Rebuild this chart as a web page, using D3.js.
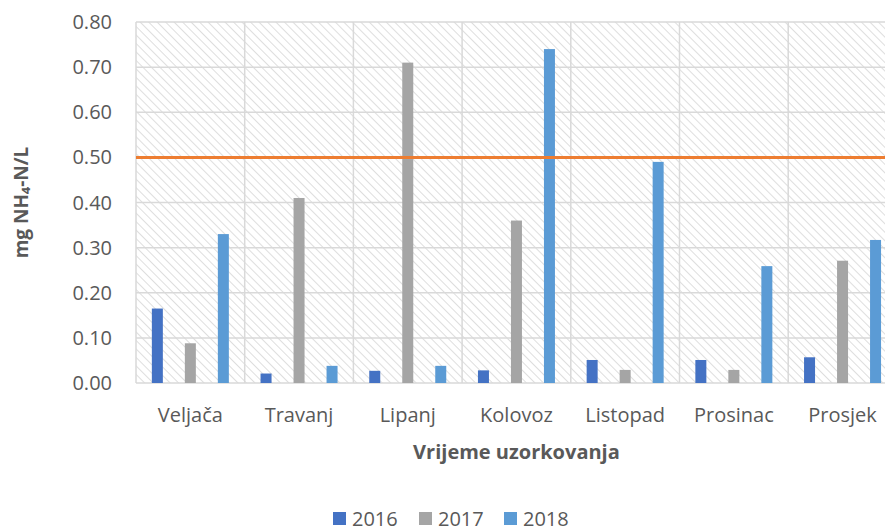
<!DOCTYPE html>
<html>
<head>
<meta charset="utf-8">
<script src="https://cdn.jsdelivr.net/npm/d3@7"></script>
<style>
  body { margin: 0; background: #fff; }
  text { font-family: "Open Sans", "Liberation Sans", sans-serif; fill: #595959; }
</style>
</head>
<body>
<div id="chart"></div>
<script>
//////////////////////////// data /////////////////////////////////////////

const months = ["Veljača", "Travanj", "Lipanj", "Kolovoz", "Listopad", "Prosinac", "Prosjek"];
const years = ["2016", "2017", "2018"];
const vals2016 = [0.165, 0.021, 0.027, 0.028, 0.051, 0.051, 0.057];
const vals2017 = [0.088, 0.41, 0.71, 0.36, 0.029, 0.029, 0.271];
const vals2018 = [0.33, 0.038, 0.038, 0.74, 0.49, 0.259, 0.317];
const yTicks = [0, 0.1, 0.2, 0.3, 0.4, 0.5, 0.6, 0.7, 0.8];
const limit = 0.5;

const series = [vals2016, vals2017, vals2018];
const data = months.map((m, i) => ({
	month: m,
	values: years.map((y, j) => ({ year: y, val: series[j][i] }))
}));

//////////////////////////// sizes ////////////////////////////////////////

const width = 885;
const height = 531;
const margin = { top: 22, left: 136, bottom: 148 };
const catStep = 108.7;

const colors = d3.scaleOrdinal().domain(years).range(["#4472C4", "#A5A5A5", "#5B9BD5"]);

//////////////////////////// svg //////////////////////////////////////////

const svg = d3.select("#chart").append("svg")
	.attr("width", width)
	.attr("height", height);

// hatched background (lines falling left to right)
const defs = svg.append("defs");
const pat = defs.append("pattern")
	.attr("id", "hatch")
	.attr("patternUnits", "userSpaceOnUse")
	.attr("width", 6)
	.attr("height", 6)
	.attr("patternTransform", "rotate(45)");
pat.append("line")
	.attr("x1", 0).attr("y1", 0).attr("x2", 6).attr("y2", 0)
	.attr("stroke", "#dedede")
	.attr("stroke-width", 2);

//////////////////////////// scales ///////////////////////////////////////

const xScale = d3.scaleBand()
	.domain(months)
	.range([margin.left, margin.left + catStep * months.length]);

const x1 = d3.scaleBand()
	.domain(years)
	.range([0, 77])
	.paddingInner(2 / 3);

const yScale = d3.scaleLinear()
	.domain([0, 0.8])
	.range([height - margin.bottom, margin.top]);

const plotRight = xScale.range()[1];

//////////////////////////// plot area ////////////////////////////////////

svg.append("rect")
	.attr("x", margin.left)
	.attr("y", margin.top)
	.attr("width", plotRight - margin.left)
	.attr("height", yScale(0) - margin.top)
	.attr("fill", "url(#hatch)");

// horizontal grid
svg.append("g")
	.selectAll("line")
	.data(yTicks)
	.join("line")
	.attr("x1", margin.left)
	.attr("x2", plotRight)
	.attr("y1", d => yScale(d))
	.attr("y2", d => yScale(d))
	.attr("stroke", "#d9d9d9")
	.attr("stroke-width", 1.5);

// vertical grid at category borders
svg.append("g")
	.selectAll("line")
	.data(months.concat(["end"]))
	.join("line")
	.attr("x1", (d, i) => margin.left + xScale.step() * i)
	.attr("x2", (d, i) => margin.left + xScale.step() * i)
	.attr("y1", margin.top)
	.attr("y2", yScale(0))
	.attr("stroke", "#d9d9d9")
	.attr("stroke-width", 1.5);

// y tick labels
svg.append("g")
	.selectAll("text")
	.data(yTicks)
	.join("text")
	.attr("x", 112)
	.attr("y", d => yScale(d))
	.attr("dy", "0.35em")
	.attr("text-anchor", "end")
	.style("font-size", "20px")
	.text(d => d3.format(".2f")(d));

//////////////////////////// bars /////////////////////////////////////////

const groups = svg.append("g")
	.selectAll("g")
	.data(data)
	.join("g")
	.attr("transform", d => `translate(${xScale(d.month) + xScale.bandwidth() / 2 - 38.5},0)`);

groups.selectAll("rect")
	.data(d => d.values)
	.join("rect")
	.attr("x", d => x1(d.year))
	.attr("width", x1.bandwidth())
	.attr("y", d => yScale(d.val))
	.attr("height", d => yScale(0) - yScale(d.val))
	.attr("fill", d => colors(d.year));

// limit line
svg.append("line")
	.attr("x1", margin.left)
	.attr("x2", plotRight)
	.attr("y1", yScale(limit))
	.attr("y2", yScale(limit))
	.attr("stroke", "#ED7D31")
	.attr("stroke-width", 3);

// category labels
svg.append("g")
	.selectAll("text")
	.data(months)
	.join("text")
	.attr("x", d => xScale(d) + xScale.bandwidth() / 2)
	.attr("y", 422)
	.attr("text-anchor", "middle")
	.style("font-size", "20px")
	.text(d => d);

//////////////////////////// titles ///////////////////////////////////////

svg.append("text")
	.attr("x", (margin.left + plotRight) / 2)
	.attr("y", 459)
	.attr("text-anchor", "middle")
	.style("font-size", "20px")
	.style("font-weight", "bold")
	.text("Vrijeme uzorkovanja");

svg.append("text")
	.attr("transform", `translate(28,${(margin.top + yScale(0)) / 2}) rotate(-90)`)
	.attr("text-anchor", "middle")
	.style("font-size", "19px")
	.style("font-weight", "bold")
	.text("mg NH₄-N/L");

//////////////////////////// legend ///////////////////////////////////////

const legendX = [333, 419, 504];
const legend = svg.append("g")
	.selectAll("g")
	.data(years)
	.join("g")
	.attr("transform", (d, i) => `translate(${legendX[i]},512)`);

legend.append("rect")
	.attr("width", 13)
	.attr("height", 13)
	.attr("fill", d => colors(d));

legend.append("text")
	.attr("x", 19)
	.attr("y", 7)
	.attr("dy", "0.36em")
	.style("font-size", "20px")
	.text(d => d);
</script>
</body>
</html>
